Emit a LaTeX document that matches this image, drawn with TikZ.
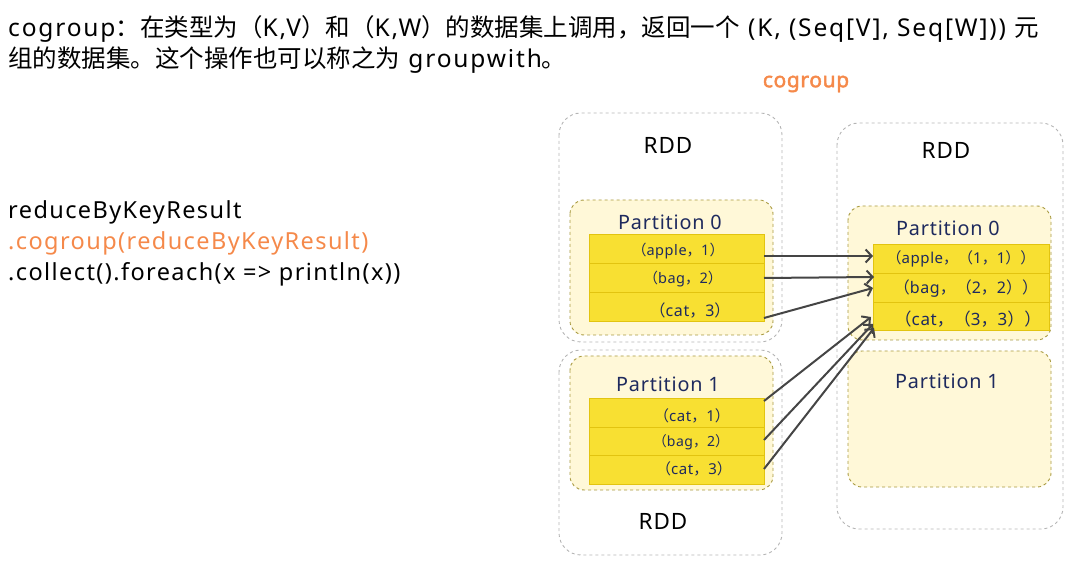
\documentclass[tikz,border=0pt]{standalone}
\usepackage{fontspec}
\setmainfont{Noto Sans}[LetterSpace=4]
\newfontfamily\cjk{Noto Sans CJK SC}
\newfontfamily\codefont{Noto Sans}[LetterSpace=6]
\newfontfamily\titlelat{Noto Sans}[LetterSpace=7.5]
\newfontfamily\cgfont{Noto Sans}[FakeBold=2.2,LetterSpace=3]
\usetikzlibrary{arrows.meta}
\definecolor{orng}{HTML}{F5894A}
\definecolor{rowy}{HTML}{F8E032}
\definecolor{rowb}{HTML}{E2C410}
\definecolor{partf}{HTML}{FFF8D8}
\definecolor{partb}{HTML}{A89A40}
\definecolor{rddb}{HTML}{B4B4B4}
\definecolor{navy}{HTML}{1E2A5E}
\definecolor{arr}{HTML}{454545}
\newcommand\Lpar{{\cjk （}}
\newcommand\Rpar{{\cjk ）}}
\newcommand\Cma{{\cjk ，}}
\tikzset{
  rddbox/.style={draw=rddb, dashed, line width=0.9pt, rounded corners=22pt},
  partbox/.style={draw=partb, fill=partf, dashed, line width=0.9pt, rounded corners=14pt},
  rowbox/.style={draw=rowb, fill=rowy, line width=0.8pt},
  rddlbl/.style={font=\fontsize{22.5}{25}\selectfont, text=black},
  partlbl/.style={font=\fontsize{19.8}{22}\selectfont, text=navy},
  rowlbl/.style={text=navy, inner sep=0pt},
  link/.style={draw=arr, line width=2pt, -{Straight Barb[length=6pt,width=13pt,line width=2pt]}},
  plain/.style={inner sep=0pt, anchor=base west},
  codetxt/.style={plain, font=\fontsize{23.5}{26}\selectfont\codefont}
}
\begin{document}
\begin{tikzpicture}[x=1pt,y=-1pt]
\useasboundingbox (0,0) rectangle (1080,569);
% title
\node[plain, font=\fontsize{24.5}{26}\selectfont\titlelat] (t1) at (8,37) {cogroup{\cjk ：在类型为（}K,V{\cjk ）和（}K,W{\cjk ）的数据集上调用，返回一个} (K, (Seq[V], Seq[W])) {\cjk 元}};
\node[plain, font=\fontsize{24.5}{26}\selectfont\titlelat] (t2) at (8,68) {{\cjk 组的数据集。这个操作也可以称之为} groupwith{\cjk 。}};
\node[font=\fontsize{21}{23}\selectfont\cgfont, text=orng, inner sep=0pt] (cg) at (806,84) {cogroup};
% code
\node[codetxt] (c1) at (8,219) {reduceByKeyResult};
\node[codetxt, text=orng] (c2) at (8,250) {.cogroup(reduceByKeyResult)};
\node[codetxt] (c3) at (8,281) {.collect().foreach(x => println(x))};
% left top RDD
\draw[rddbox] (559,113) rectangle (782,342);
\node[rddlbl] (r1) at (668,145) {RDD};
\draw[partbox] (570,200) rectangle (773,335);
\node[partlbl] (p10) at (670,222) {Partition 0};
\draw[rowbox] (589,234) rectangle (764,263);
\draw[rowbox] (589,263) rectangle (764,292);
\draw[rowbox] (589,292) rectangle (764,321);
\node[rowlbl, font=\fontsize{14.5}{16}\selectfont] (a1) at (678,251) {\Lpar apple\Cma 1\Rpar};
\node[rowlbl, font=\fontsize{14.5}{16}\selectfont] (a2) at (683,279) {\Lpar bag\Cma 2\Rpar};
\node[rowlbl, font=\fontsize{16}{18}\selectfont] (a3) at (690,311) {\Lpar cat\Cma 3\Rpar};
\coordinate (sa1) at (764,256);
\coordinate (sa2) at (764,278);
\coordinate (sa3) at (764,318);
% left bottom RDD
\draw[rddbox] (559,350) rectangle (782,555);
\node[rddlbl] (r2) at (663,521) {RDD};
\draw[partbox] (570,356) rectangle (773,490);
\node[partlbl] (p21) at (668,384) {Partition 1};
\draw[rowbox] (589,398) rectangle (764,427);
\draw[rowbox] (589,427) rectangle (764,455);
\draw[rowbox] (589,455) rectangle (764,484);
\node[rowlbl, font=\fontsize{15}{17}\selectfont] (b1) at (692,416) {\Lpar cat\Cma 1\Rpar};
\node[rowlbl, font=\fontsize{14}{16}\selectfont] (b2) at (691,442) {\Lpar bag\Cma 2\Rpar};
\node[rowlbl, font=\fontsize{15}{17}\selectfont] (b3) at (694,469) {\Lpar cat\Cma 3\Rpar};
\coordinate (sb1) at (764,401);
\coordinate (sb2) at (764,440);
\coordinate (sb3) at (764,469);
% right RDD
\draw[rddbox] (837,123) rectangle (1063,529);
\node[rddlbl] (r3) at (946,150) {RDD};
\draw[partbox] (848,206) rectangle (1051,340);
\node[partlbl] (p30) at (948,228) {Partition 0};
\draw[rowbox] (873,244) rectangle (1049,273);
\draw[rowbox] (873,273) rectangle (1049,302);
\draw[rowbox] (873,302) rectangle (1049,330);
\node[rowlbl, font=\fontsize{15}{17}\selectfont] (c31) at (961,259) {\Lpar apple\Cma\Lpar 1\Cma 1\Rpar\Rpar};
\node[rowlbl, font=\fontsize{16}{18}\selectfont] (c32) at (966,289) {\Lpar bag\Cma\Lpar 2\Cma 2\Rpar\Rpar};
\node[rowlbl, font=\fontsize{17}{19}\selectfont] (c33) at (968,319) {\Lpar cat\Cma\Lpar 3\Cma 3\Rpar\Rpar};
\draw[partbox] (848,351) rectangle (1051,487);
\node[partlbl] (p31) at (947,381) {Partition 1};
\coordinate (ta1) at (873,256);
\coordinate (ta2) at (874,277);
\coordinate (ta3) at (873,288);
\coordinate (tb1) at (871,317);
\coordinate (tb2) at (873,324);
\coordinate (tb3) at (874,328);
% arrows
\draw[link] (sa1) -- (ta1);
\draw[link] (sa2) -- (ta2);
\draw[link] (sa3) -- (ta3);
\draw[link] (sb1) -- (tb1);
\draw[link] (sb2) -- (tb2);
\draw[link] (sb3) -- (tb3);
\end{tikzpicture}
\end{document}
